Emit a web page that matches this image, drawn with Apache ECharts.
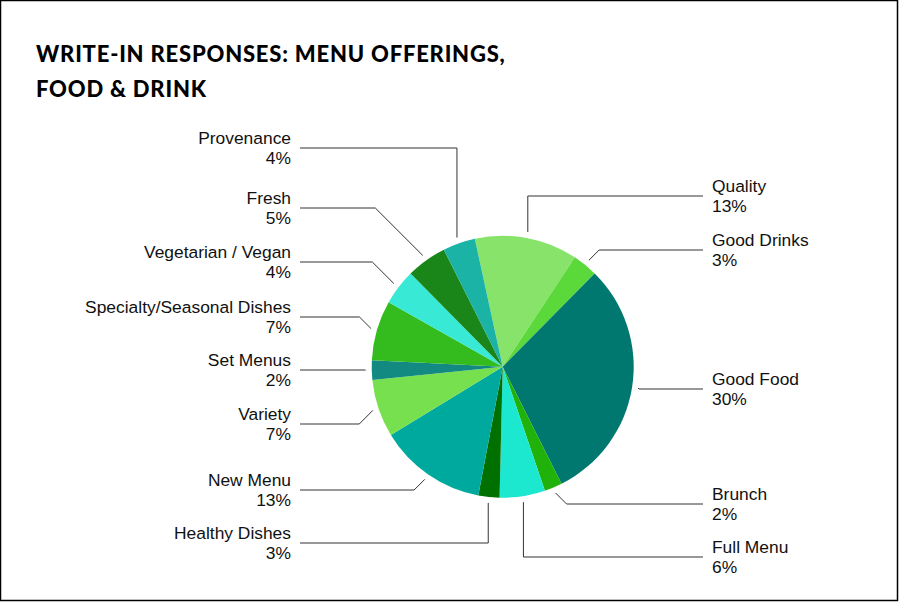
<!DOCTYPE html>
<html>
<head>
<meta charset="utf-8">
<script src="https://cdn.jsdelivr.net/npm/echarts@6/dist/echarts.min.js"></script>
<style>
  html, body { margin: 0; padding: 0; background: #fff; }
  #chart { width: 900px; height: 602px; }
  /* title letter spacing (svg renderer) */
  #chart text[style*="Lato"] { letter-spacing: 0.8px; }
</style>
</head>
<body>
<div id="chart"></div>
<script>
// categories, clockwise from the top
const names = ['Quality', 'Good Drinks', 'Good Food', 'Brunch', 'Full Menu', 'Healthy Dishes',
  'New Menu', 'Variety', 'Set Menus', 'Specialty/Seasonal Dishes', 'Vegetarian / Vegan', 'Fresh', 'Provenance'];
// share of write-in responses (%)
const shares = [12.7, 3.1, 30.2, 2.2, 5.6, 2.6, 13.3, 7.1, 2.4, 7.4, 4.4, 5.0, 4.0];

const colors = ['#88e36b', '#5cd93a', '#00786f', '#20b20a', '#1ce8d0', '#007000',
  '#00a99d', '#76e04e', '#128a82', '#34bb1d', '#38e9d6', '#1a8518', '#1bb3a6'];

// label placement (y of the leader line) and how the leader bends
const labelY = [196, 250, 389, 504, 557, 543, 490, 424, 370, 317, 262, 208, 148];
const bend = ['v', 'd', 'd', 'd', 'v', 'v', 'd', 'd', 'd', 'd', 'd', 'd', 'v'];
const LEFT_EDGE = 300, RIGHT_EDGE = 703;

const chart = echarts.init(document.getElementById('chart'), null, {renderer: 'svg'});

const sideOf = [];

chart.setOption({
  animation: false,
  backgroundColor: '#fff',
  title: {
    text: 'WRITE-IN RESPONSES: MENU OFFERINGS,\nFOOD & DRINK',
    left: 31,
    top: 31,
    textStyle: {
      fontFamily: 'Lato',
      fontWeight: 900,
      fontSize: 22,
      lineHeight: 35,
      color: '#000'
    }
  },
  series: [{
    type: 'pie',
    center: [502.7, 366.7],
    radius: 131,
    startAngle: 102.3,
    clockwise: true,
    avoidLabelOverlap: false,
    emphasis: {disabled: true},
    itemStyle: {borderWidth: 0},
    data: names.map((n, i) => ({name: n, value: shares[i], itemStyle: {color: colors[i]}})),
    label: {
      show: true,
      position: 'outside',
      color: '#111',
      fontFamily: 'Liberation Sans',
      fontSize: 17.4,
      lineHeight: 20,
      formatter: p => p.name + '\n' + Math.round(p.percent) + '%'
    },
    labelLine: {show: false},
    labelLayout: function (params) {
      const i = params.dataIndex;
      const right = sideOf[i] !== 'left';
      return {
        x: right ? RIGHT_EDGE + 9 : LEFT_EDGE - 9,
        y: labelY[i],
        align: right ? 'left' : 'right',
        verticalAlign: 'middle'
      };
    }
  }]
});

// leader lines from the slice layout computed by the pie
function leaders() {
  const data = chart.getModel().getSeriesByIndex(0).getData();
  const lines = [];
  for (let i = 0; i < names.length; i++) {
    const lay = data.getItemLayout(i);
    const mid = (lay.startAngle + lay.endAngle) / 2;
    const rr = lay.r + 6;
    const sx = lay.cx + rr * Math.cos(mid);
    const sy = lay.cy + rr * Math.sin(mid);
    const right = sx >= lay.cx;
    sideOf[i] = right ? 'right' : 'left';
    const ly = labelY[i];
    let ex = sx;
    if (bend[i] === 'd') ex = sx + (right ? 1 : -1) * Math.abs(ly - sy);
    lines.push({
      type: 'polyline',
      silent: true,
      shape: {points: [[sx, sy], [ex, ly], [right ? RIGHT_EDGE : LEFT_EDGE, ly]]},
      style: {stroke: '#333', lineWidth: 1, fill: null}
    });
  }
  lines.push({
    type: 'rect',
    silent: true,
    shape: {x: 0.5, y: 0.5, width: 897, height: 600},
    style: {stroke: '#000', lineWidth: 1.5, fill: null}
  });
  return lines;
}

const g = leaders();
chart.setOption({graphic: g, series: [{labelLayout: chart.getOption().series[0].labelLayout}]});
</script>
</body>
</html>
